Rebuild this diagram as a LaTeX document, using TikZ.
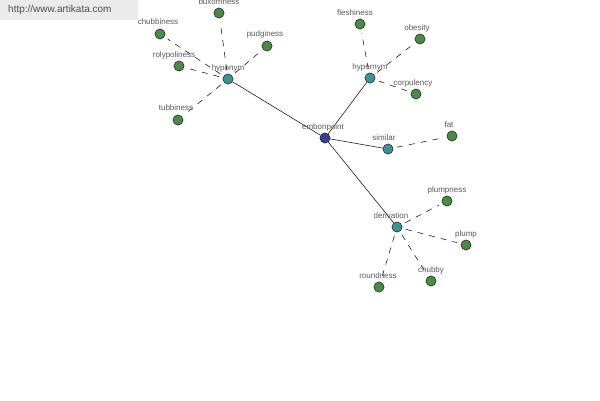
\documentclass[tikz,border=0pt]{standalone}
\usepackage{fontspec}
\setmainfont{Liberation Sans}
\begin{document}
\begin{tikzpicture}[x=1pt,y=-1pt,
  dot/.style={circle,draw=black!80,line width=0.5pt,minimum size=10pt,inner sep=0pt},
  leaf/.style={dot,fill=leafgreen},
  hub/.style={dot,fill=hubteal},
  root/.style={dot,fill=rootblue},
  lbl/.style={font=\fontsize{8}{9}\selectfont,text=black!65,inner sep=0pt},
  solidedge/.style={draw=black,line width=0.5pt},
  dashedge/.style={draw=black,line width=0.5pt,dash pattern=on 6pt off 6pt,shorten <=4pt,shorten >=4pt}]
\definecolor{leafgreen}{RGB}{74,138,70}
\definecolor{hubteal}{RGB}{58,148,150}
\definecolor{rootblue}{RGB}{60,60,150}
\useasboundingbox (0,0) rectangle (600,400);
\fill[white] (0,0) rectangle (600,400);
\fill[black!8] (0,0) rectangle (138,20);
\node[anchor=west,font=\fontsize{10}{11}\selectfont,text=black!70,inner sep=0pt] (wm) at (8,10) {http://www.artikata.com};
% nodes
\node[root] (emb) at (325,138) {};
\node[hub] (hypo) at (228,79) {};
\node[hub] (hyper) at (370,78) {};
\node[hub] (sim) at (388,149) {};
\node[hub] (der) at (397,227) {};
\node[leaf] (bux) at (219,13) {};
\node[leaf] (chub) at (160,34) {};
\node[leaf] (roly) at (179,66) {};
\node[leaf] (pudg) at (267,46) {};
\node[leaf] (tubb) at (178,120) {};
\node[leaf] (flesh) at (360,24) {};
\node[leaf] (obes) at (420,39) {};
\node[leaf] (corp) at (416,94) {};
\node[leaf] (fat) at (452,136) {};
\node[leaf] (plumpn) at (447,201) {};
\node[leaf] (plump) at (466,245) {};
\node[leaf] (chubby) at (431,281) {};
\node[leaf] (round) at (379,287) {};
% edges
\draw[solidedge] (emb) -- (hypo);
\draw[solidedge] (emb) -- (hyper);
\draw[solidedge] (emb) -- (sim);
\draw[solidedge] (emb) -- (der);
\foreach \a in {bux,chub,roly,pudg,tubb} \draw[dashedge] (hypo) -- (\a);
\foreach \a in {flesh,obes,corp} \draw[dashedge] (hyper) -- (\a);
\draw[dashedge] (sim) -- (fat);
\foreach \a in {plumpn,plump,chubby,round} \draw[dashedge] (der) -- (\a);
% labels
\node[lbl] (l1) at (323,127) {embonpoint};
\node[lbl] (l2) at (228,68) {hyponym};
\node[lbl] (l3) at (370,67) {hypernym};
\node[lbl] (l4) at (384,138) {similar};
\node[lbl] (l5) at (391,216) {derivation};
\node[lbl] (l6) at (219,2) {buxomness};
\node[lbl] (l7) at (158,22) {chubbiness};
\node[lbl] (l8) at (174,55) {rolypoliness};
\node[lbl] (l9) at (265,34) {pudginess};
\node[lbl] (l10) at (176,108) {tubbiness};
\node[lbl] (l11) at (355,13) {fleshiness};
\node[lbl] (l12) at (417,28) {obesity};
\node[lbl] (l13) at (413,83) {corpulency};
\node[lbl] (l14) at (449,125) {fat};
\node[lbl] (l15) at (447,190) {plumpness};
\node[lbl] (l16) at (466,234) {plump};
\node[lbl] (l17) at (431,270) {chubby};
\node[lbl] (l18) at (378,276) {roundness};
% redraw nodes on top
\node[root] at (emb) {};
\foreach \a in {hypo,hyper,sim,der} \node[hub] at (\a) {};
\foreach \a in {bux,chub,roly,pudg,tubb,flesh,obes,corp,fat,plumpn,plump,chubby,round} \node[leaf] at (\a) {};
\end{tikzpicture}
\end{document}
